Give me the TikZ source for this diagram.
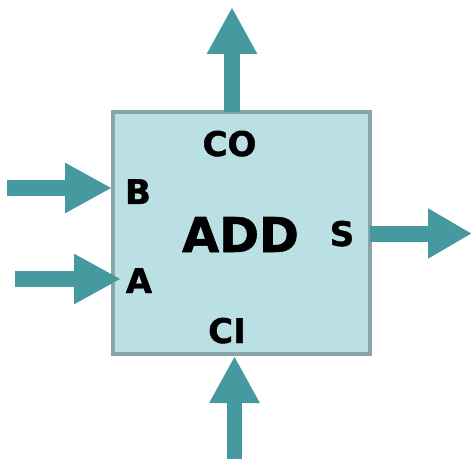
\documentclass[tikz,border=0pt]{standalone}
\usepackage{fontspec}
\setmainfont{DejaVu Sans}[BoldFeatures={FakeBold=1.2}]
\usetikzlibrary{arrows.meta}
\definecolor{boxfill}{HTML}{BAE0E3}
\definecolor{boxedge}{HTML}{88A6A8}
\definecolor{wire}{HTML}{46999F}
\tikzset{
  x=1pt, y=1pt,
  block/.style={draw=boxedge, fill=boxfill, line width=4pt, rectangle,
    minimum width=257pt, minimum height=242pt, inner sep=0pt},
  pin/.style={font=\bfseries\fontsize{34}{40}\selectfont, anchor=base, inner sep=0pt},
  title/.style={font=\bfseries\fontsize{48}{56}\selectfont, anchor=base, inner sep=0pt},
  bus/.style={draw=wire, line width=16pt,
    -{Triangle[length=47pt, width=47pt, fill=wire, color=wire]}},
}
\begin{document}
\begin{tikzpicture}
\useasboundingbox (0,0) rectangle (472,459);

% adder block
\node[block] (add) at (241.5,226) {};

% labels
\node[title] (lbladd) at (240.5,207) {ADD};
\node[pin] (lblco) at (229.5,303) {CO};
\node[pin] (lblci) at (227,116) {CI};
\node[pin] (lblb) at (138,255) {B};
\node[pin] (lbla) at (139,166) {A};
\node[pin] (lbls) at (342,213) {S};

% wire ends
\coordinate (coout) at (232,452);
\coordinate (cotail) at (232,347);
\coordinate (ciin) at (234.5,0);
\coordinate (citip) at (234.5,103);
\coordinate (bin) at (7,271);
\coordinate (btip) at (112,271);
\coordinate (ain) at (15,180);
\coordinate (atip) at (121,180);
\coordinate (stail) at (370,225.5);
\coordinate (sout) at (472,225.5);

% connectors
\draw[bus] (cotail) -- (coout);
\draw[bus, line width=15pt] (ciin) -- (citip);
\draw[bus] (bin) -- (btip);
\draw[bus] (ain) -- (atip);
\draw[bus, -{Triangle[length=44pt, width=47pt, fill=wire, color=wire]}] (stail) -- (sout);
\end{tikzpicture}
\end{document}
